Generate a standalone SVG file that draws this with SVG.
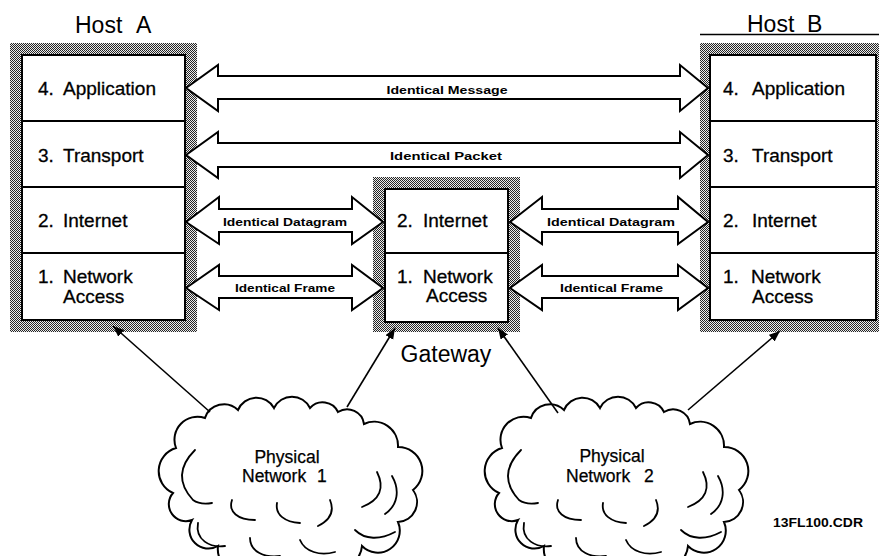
<svg xmlns="http://www.w3.org/2000/svg" xmlns:xlink="http://www.w3.org/1999/xlink" width="879" height="556" viewBox="0 0 879 556">
<style>
.lbl { font-family: "Liberation Sans", Arial, sans-serif; font-size: 19px; fill: #000; stroke: #000; stroke-width: 0.3; }
.title { font-family: "Liberation Sans", Arial, sans-serif; font-size: 23px; fill: #000; }
.small { font-family: "Liberation Sans", Arial, sans-serif; font-size: 11px; font-weight: bold; fill: #000; text-anchor: middle; }
.cl { font-family: "Liberation Sans", Arial, sans-serif; font-size: 17.5px; fill: #000; stroke: #000; stroke-width: 0.25; }
.box { fill: #fff; stroke: #000; stroke-width: 2; }
.shade { fill: url(#hatch); }
.div { stroke: #000; stroke-width: 2; }
.arrow { fill: #fff; stroke: #000; stroke-width: 2; stroke-linejoin: miter; }
.link { stroke: #000; stroke-width: 1.6; fill: none; }
.cloud { fill: #fff; stroke: #000; stroke-width: 2; }
.inner { fill: none; stroke: #000; stroke-width: 1.8; stroke-linecap: round; }
</style>
<defs>
  <pattern id="hatch" width="2" height="2" patternUnits="userSpaceOnUse">
    <rect width="2" height="2" fill="#ececec"/>
    <rect width="1" height="1" fill="#262626"/>
    <rect x="1" y="1" width="1" height="1" fill="#262626"/>
  </pattern>
  <marker id="ah" markerWidth="12" markerHeight="10" refX="11" refY="4.5" orient="auto" markerUnits="userSpaceOnUse">
    <path d="M0,0 L11,4.5 L0,9 Z" fill="#000"/>
  </marker>
  <g id="cloudShape">
    <path class="cloud" d="M173,493 A24,24 0 0 1 176,448 A23,23 0 0 1 205,418 A20,20 0 0 1 238,410 A20,20 0 0 1 274,408 A20,20 0 0 1 310,408 A17,17 0 0 1 338,412 A17,17 0 0 1 364,424 A24,24 0 0 1 398,447 A24,24 0 0 1 413,490 A20,20 0 0 1 398,522 A22,22 0 0 1 362,546 A24,24 0 0 1 322,562 A32,32 0 0 1 262,562 A24,24 0 0 1 218,546 A19,19 0 0 1 192,520 A17,17 0 0 1 173,493 Z"/>
    <path class="inner" d="M195,450 Q170,475 193,500 Q200,505 212,503"/>
    <path class="inner" d="M232,500 C228,512 238,520 255,520"/>
    <path class="inner" d="M277,503 C275,515 285,522 300,523"/>
    <path class="inner" d="M330,500 C335,512 330,520 318,526"/>
    <path class="inner" d="M377,472 C385,488 380,500 362,507"/>
    <path class="inner" d="M392,476 C400,490 398,505 385,514"/>
    <path class="inner" d="M198,523 C195,540 210,548 225,546"/>
    <path class="inner" d="M250,538 C250,552 265,558 280,556"/>
    <path class="inner" d="M300,540 C305,552 320,556 335,552"/>
    <path class="inner" d="M355,530 C365,540 380,540 395,532"/>
  </g>
</defs>

<rect width="879" height="556" fill="#fff"/>

<g id="hostA">
  <text class="title" y="33"><tspan x="75">Host</tspan><tspan x="136">A</tspan></text>
  <rect class="shade" x="10" y="43" width="187" height="289"/>
  <rect class="box" x="22" y="55" width="163" height="265"/>
  <line class="div" x1="22" y1="121" x2="185" y2="121"/>
  <line class="div" x1="22" y1="187" x2="185" y2="187"/>
  <line class="div" x1="22" y1="253" x2="185" y2="253"/>
  <text class="lbl" y="95"><tspan x="38">4.</tspan><tspan x="63">Application</tspan></text>
  <text class="lbl" y="162"><tspan x="38">3.</tspan><tspan x="63">Transport</tspan></text>
  <text class="lbl" y="227"><tspan x="38">2.</tspan><tspan x="63">Internet</tspan></text>
  <text class="lbl" y="283"><tspan x="38">1.</tspan><tspan x="63">Network</tspan></text>
  <text class="lbl" x="63" y="303">Access</text>
</g>

<g id="hostB">
  <text class="title" y="32"><tspan x="747">Host</tspan><tspan x="807">B</tspan></text>
  <line x1="700" y1="34.5" x2="879" y2="34.5" stroke="#000" stroke-width="1.5"/>
  <rect class="shade" x="700" y="43" width="185" height="289"/>
  <rect class="box" x="710" y="55" width="166" height="265"/>
  <line class="div" x1="710" y1="121" x2="876" y2="121"/>
  <line class="div" x1="710" y1="187" x2="876" y2="187"/>
  <line class="div" x1="710" y1="253" x2="876" y2="253"/>
  <text class="lbl" y="95"><tspan x="723">4.</tspan><tspan x="752">Application</tspan></text>
  <text class="lbl" y="162"><tspan x="723">3.</tspan><tspan x="752">Transport</tspan></text>
  <text class="lbl" y="227"><tspan x="723">2.</tspan><tspan x="752">Internet</tspan></text>
  <text class="lbl" y="283"><tspan x="723">1.</tspan><tspan x="751">Network</tspan></text>
  <text class="lbl" x="752" y="303">Access</text>
</g>

<g id="gateway">
  <rect class="shade" x="373" y="177" width="147" height="155"/>
  <rect class="box" x="385" y="189" width="123" height="133"/>
  <line class="div" x1="385" y1="253" x2="508" y2="253"/>
  <text class="lbl" y="227"><tspan x="397">2.</tspan><tspan x="423">Internet</tspan></text>
  <text class="lbl" y="283"><tspan x="397">1.</tspan><tspan x="423">Network</tspan></text>
  <text class="lbl" x="426" y="302">Access</text>
  <text class="title" x="446" y="362" text-anchor="middle">Gateway</text>
</g>

<g id="net1">
  <use xlink:href="#cloudShape"/>
  <text class="cl" x="287" y="463" text-anchor="middle">Physical</text>
  <text class="cl" y="482"><tspan x="242">Network</tspan><tspan x="317">1</tspan></text>
</g>

<g id="net2">
  <use xlink:href="#cloudShape" transform="translate(326,0)"/>
  <text class="cl" x="612" y="462" text-anchor="middle">Physical</text>
  <text class="cl" y="482"><tspan x="566">Network</tspan><tspan x="644">2</tspan></text>
</g>

<g id="connectors">
  <polygon class="arrow" points="186,88 218,65 218,76 680,76 680,65 708,88 680,111 680,99 218,99 218,111"/>
  <text class="small" x="447" y="93.5" textLength="121" lengthAdjust="spacingAndGlyphs">Identical Message</text>
  <polygon class="arrow" points="186,155 218,132 218,143 680,143 680,132 708,155 680,178 680,167 218,167 218,178"/>
  <text class="small" x="446" y="159.5" textLength="112" lengthAdjust="spacingAndGlyphs">Identical Packet</text>
  <polygon class="arrow" points="186,222 219,197 219,209 352,209 352,197 383,222 352,244 352,232 219,232 219,244"/>
  <text class="small" x="285" y="226" textLength="124" lengthAdjust="spacingAndGlyphs">Identical Datagram</text>
  <polygon class="arrow" points="186,288 219,265 219,276 352,276 352,265 383,288 352,310 352,298 219,298 219,310"/>
  <text class="small" x="285" y="292" textLength="100" lengthAdjust="spacingAndGlyphs">Identical Frame</text>
  <polygon class="arrow" points="510,222 542,197 542,209 678,209 678,197 708,222 678,244 678,232 542,232 542,244"/>
  <text class="small" x="611" y="226" textLength="128" lengthAdjust="spacingAndGlyphs">Identical Datagram</text>
  <polygon class="arrow" points="510,288 542,265 542,276 678,276 678,265 708,288 678,310 678,298 542,298 542,310"/>
  <text class="small" x="611.5" y="292" textLength="103" lengthAdjust="spacingAndGlyphs">Identical Frame</text>
  <line class="link" x1="210" y1="412" x2="113" y2="326" marker-end="url(#ah)"/>
  <line class="link" x1="347" y1="407" x2="395" y2="328" marker-end="url(#ah)"/>
  <line class="link" x1="558" y1="413" x2="498" y2="328" marker-end="url(#ah)"/>
  <line class="link" x1="688" y1="410" x2="780" y2="331" marker-end="url(#ah)"/>
</g>

<text x="773" y="527" font-family="Liberation Sans, Arial, sans-serif" font-size="13.5" font-weight="bold" textLength="90" lengthAdjust="spacingAndGlyphs">13FL100.CDR</text>
</svg>
